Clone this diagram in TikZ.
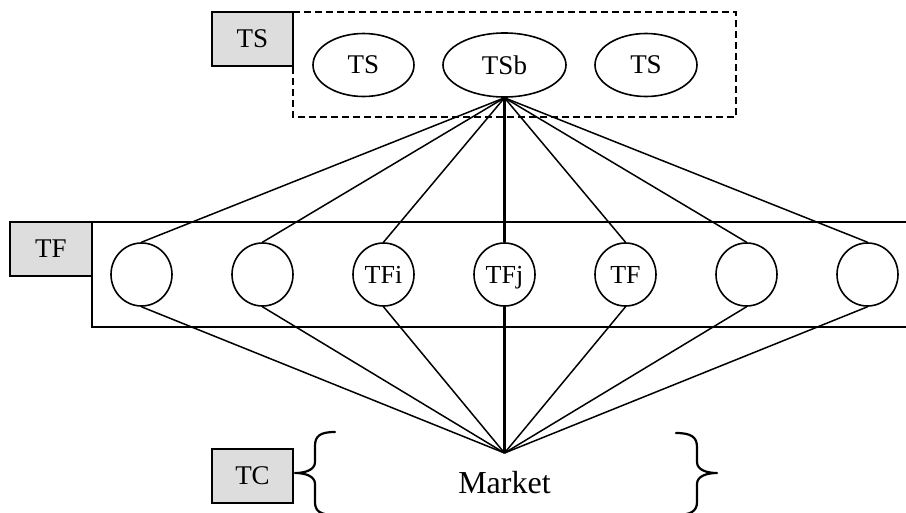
\documentclass[tikz,border=0pt]{standalone}
\usepackage{fontspec}
\setmainfont{Liberation Serif}
\usetikzlibrary{shapes.geometric}
\definecolor{labelgrey}{RGB}{221,221,221}
\begin{document}
\begin{tikzpicture}[x=1pt,y=-1pt,
  thin line/.style={line width=1.6pt},
  tagbox/.style={draw,thin line,fill=labelgrey,minimum width=81pt,minimum height=54pt,inner sep=0pt,
    font=\fontsize{27}{31}\selectfont},
  bigoval/.style={draw,thin line,ellipse,inner sep=0pt,font=\fontsize{27}{31}\selectfont},
  firm/.style={draw,thin line,ellipse,minimum width=61pt,minimum height=63pt,inner sep=0pt,
    text depth=0pt,font=\fontsize{26}{30}\selectfont},
  link/.style={line width=1.5pt},
  mainlink/.style={line width=3.4pt},
  bracepath/.style={line width=2.2pt,line cap=round,line join=round}]
\useasboundingbox (0,0) rectangle (906,512);

% top tier: dashed group with three ovals
\draw[thin line,dash pattern=on 7pt off 4pt] (293,12) rectangle (736,117);
\node[tagbox] (tsbox) at (252.5,39) {TS};
\node[bigoval,minimum width=101pt,minimum height=63pt] (ts1) at (363.5,65) {TS};
\node[bigoval,minimum width=123pt,minimum height=64pt] (tsb) at (504.5,65) {TSb};
\node[bigoval,minimum width=102pt,minimum height=63pt] (ts3) at (646,65) {TS};

% middle tier: open band with seven firms
\draw[thin line] (907,222) -- (92,222) -- (92,327) -- (907,327);
\node[tagbox,minimum width=82pt] (tfbox) at (51,249) {TF};
\node[firm] (c1) at (141.5,274.5) {};
\node[firm] (c2) at (262.5,274.5) {};
\node[firm] (c3) at (383.5,274.5) {TFi};
\node[firm] (c4) at (504.5,274.5) {TFj};
\node[firm] (c5) at (625.5,274.5) {TF};
\node[firm] (c6) at (746.5,274.5) {};
\node[firm] (c7) at (867.5,274.5) {};

% bottom tier: market
\coordinate (mk) at (504.5,453);
\node[tagbox] (tcbox) at (252.5,476) {TC};
\node[anchor=base,inner sep=0pt,font=\fontsize{32}{36}\selectfont] (market) at (504.5,493) {Market};

% braces around the market
\draw[bracepath] (335,432) .. controls (320,432) and (315,436) .. (315,446) -- (315,462)
  .. controls (315,470) and (305,473) .. (295,473)
  .. controls (305,473) and (315,476) .. (315,484) -- (315,502)
  .. controls (315,511) and (320,515) .. (335,515);
\draw[bracepath] (676,433) .. controls (691,433) and (697,437) .. (697,447) -- (697,462)
  .. controls (697,470) and (707,473) .. (717,473)
  .. controls (707,473) and (697,476) .. (697,484) -- (697,502)
  .. controls (697,511) and (691,515) .. (676,515);

% connections
\foreach \c in {c1,c2,c3,c5,c6,c7}{
  \draw[link] (\c.north) -- (tsb.south);
  \draw[link] (\c.south) -- (mk);
}
\draw[mainlink] (c4.north) -- (tsb.south);
\draw[mainlink] (c4.south) -- (mk);
\end{tikzpicture}
\end{document}
